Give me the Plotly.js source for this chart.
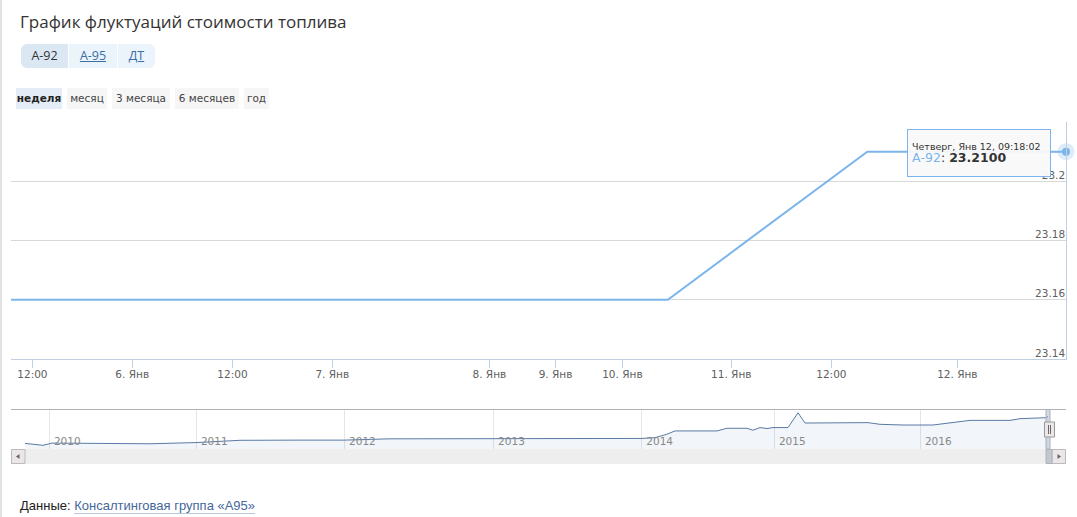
<!DOCTYPE html>
<html>
<head>
<meta charset="utf-8">
<script src="https://cdn.plot.ly/plotly-3.0.1.min.js"></script>
<style>
html,body{margin:0;padding:0;background:#fff;}
#wrap{position:relative;width:1077px;height:517px;overflow:hidden;background:#fff;}
#chart{position:absolute;left:0;top:0;width:1077px;height:517px;}
.lborder{position:absolute;left:0;top:0;width:2px;height:517px;background:#e2e2e2;}
.fuel{position:absolute;left:21px;top:44px;height:24px;display:flex;border-radius:6px;overflow:hidden;font-family:"Open Sans",sans-serif;font-size:12.5px;line-height:24px;}
.fuel span{display:block;text-align:center;background:#ebf3fb;color:#3a6ea5;text-decoration:underline;border-left:1px solid #fff;}
.fuel span.sel{background:#dbe8f4;color:#333;text-decoration:none;border-left:none;}
.rng{position:absolute;top:88px;height:21px;line-height:21px;text-align:center;font-family:"DejaVu Sans",sans-serif;font-size:10.5px;color:#444;background:#f6f6f6;}
.rng.sel{background:#e4edf7;font-weight:bold;color:#222;}
.foot{position:absolute;left:20px;top:497px;font-family:"Liberation Sans",Arial,sans-serif;font-size:13px;color:#222;line-height:18px;}
.foot a{color:#45679a;text-decoration:none;border-bottom:1px solid #b9c8dc;}
</style>
</head>
<body>
<div id="wrap">
  <div id="chart"></div>
  <div class="lborder"></div>
  <div class="fuel" id="fuel"></div>
  <div id="ranges"></div>
  <div class="foot">Данные: <a>Консалтинговая группа «А95»</a></div>
</div>
<script>
// ---- data ----
const fuelTypes = ["А-92", "А-95", "ДТ"];
const rangeLabels = ["неделя", "месяц", "3 месяца", "6 месяцев", "год"];

// main (week view, ordinal axis: positions 0..100 across the window)
const weekX = [0, 62.26, 81.17, 100];
const weekPrice = [23.16, 23.16, 23.21, 23.21];
const weekTickPos = [2.03, 11.49, 20.99, 30.45, 45.34, 51.61, 57.95, 68.27, 77.76, 89.70];
const weekTickLabels = ["12:00", "6. Янв", "12:00", "7. Янв", "8. Янв", "9. Янв", "10. Янв", "11. Янв", "12:00", "12. Янв"];
const priceTicks = [23.14, 23.16, 23.18, 23.2, 23.22];
const priceTickLabels = ["23.14", "23.16", "23.18", "23.2", ""];

// navigator (whole history, ordinal axis 0..100)
const navX = [1.33, 3.03, 3.89, 8.44, 13.18, 17.54, 21.71, 27.39, 31.56, 35.83, 45.69, 59.81, 61.04, 62.18, 62.94,
  66.92, 67.87, 69.76, 70.33, 71.00, 71.66, 72.23, 73.65, 74.60, 75.26, 81.23, 82.37, 84.55, 87.39, 90.90, 94.69,
  95.64, 98.10, 98.29];
const navPrice = [7.29, 6.13, 7.47, 7.47, 7.06, 7.76, 9.10, 9.22, 9.22, 9.97, 10.09, 10.21, 10.67, 12.71, 14.64,
  14.64, 16.21, 16.21, 15.05, 16.62, 16.04, 16.62, 16.62, 25.37, 19.30, 19.54, 18.55, 18.14, 18.14, 20.88, 20.88,
  21.87, 22.45, 23.21];
const yearTickPos = [3.63, 17.56, 31.60, 45.73, 59.78, 72.35, 86.19];
const yearLabels = ["2010", "2011", "2012", "2013", "2014", "2015", "2016"];

const tooltipHeader = "Четверг, Янв 12, 09:18:02";
const seriesName = "А-92";

// ---- UI chrome ----
const fuelWidths = [47, 48, 37];
const fuel = document.getElementById('fuel');
fuelTypes.forEach((f, i) => {
  const s = document.createElement('span');
  s.textContent = f;
  s.style.width = fuelWidths[i] + 'px';
  if (i === 0) s.className = 'sel';
  fuel.appendChild(s);
});
const rngBoxes = [[16, 46], [67, 40], [112, 58], [175, 64], [244, 25]];
const rng = document.getElementById('ranges');
rangeLabels.forEach((r, i) => {
  const d = document.createElement('div');
  d.className = 'rng' + (i === 0 ? ' sel' : '');
  d.style.left = rngBoxes[i][0] + 'px';
  d.style.width = rngBoxes[i][1] + 'px';
  d.textContent = r;
  rng.appendChild(d);
});

// ---- chart ----
const W = 1077, H = 517;
const px = v => v / W, py = v => 1 - v / H;
const lineColor = '#7cb5ec';
const axisFont = {family: 'DejaVu Sans, sans-serif', size: 10.5, color: '#606060'};

const last = weekX.length - 1;
const traces = [
  {x: weekX, y: weekPrice, type: 'scatter', mode: 'lines', line: {color: lineColor, width: 2}, xaxis: 'x', yaxis: 'y', hoverinfo: 'skip'},
  {x: [weekX[last]], y: [weekPrice[last]], type: 'scatter', mode: 'markers', cliponaxis: false,
    marker: {size: 17, color: 'rgba(124,181,236,0.25)'}, xaxis: 'x', yaxis: 'y', hoverinfo: 'skip'},
  {x: [weekX[last]], y: [weekPrice[last]], type: 'scatter', mode: 'markers', cliponaxis: false,
    marker: {size: 8, color: lineColor}, xaxis: 'x', yaxis: 'y', hoverinfo: 'skip'},
  {x: navX, y: navPrice, type: 'scatter', mode: 'lines', fill: 'tozeroy', fillcolor: 'rgba(69,114,167,0.07)',
    line: {color: '#5a7aa3', width: 1}, xaxis: 'x2', yaxis: 'y2', hoverinfo: 'skip'}
];

const shapes = [];
const rect = (x0, y0, x1, y1, fill, line, lw) => shapes.push({type: 'rect', xref: 'paper', yref: 'paper',
  x0: px(x0), x1: px(x1), y0: py(y0), y1: py(y1), fillcolor: fill, line: {color: line || 'rgba(0,0,0,0)', width: lw === undefined ? 1 : lw}, layer: 'above'});
const seg = (x0, y0, x1, y1, color) => shapes.push({type: 'line', xref: 'paper', yref: 'paper',
  x0: px(x0), x1: px(x1), y0: py(y0), y1: py(y1), line: {color: color, width: 1}, layer: 'above'});
const tri = (pts, fill) => shapes.push({type: 'path', xref: 'paper', yref: 'paper',
  path: 'M' + pts.map(p => px(p[0]) + ',' + py(p[1])).join('L') + 'Z', fillcolor: fill, line: {width: 0}, layer: 'above'});

// navigator outline + selection mask
seg(11, 409.5, 1046, 409.5, '#b2b1b6');
seg(1050, 409.5, 1066, 409.5, '#b2b1b6');
rect(1046, 409.5, 1050, 449, 'rgba(150,172,200,0.45)', '#b2b1b6', 1);
// scrollbar
rect(11, 449, 1066, 464, '#eeeeee', null, 0);
rect(11.5, 449.5, 25, 463.5, '#ebe7e8', '#bbbbbb', 1);
tri([[19.5, 454], [16, 456.5], [19.5, 459]], '#666');
rect(1052, 449.5, 1065.5, 463.5, '#ebe7e8', '#bbbbbb', 1);
tri([[1057.5, 454], [1061, 456.5], [1057.5, 459]], '#666');
rect(1046, 449.5, 1052, 463.5, '#bfc8d1', '#b2b1b6', 1);
// navigator handle
rect(1044.5, 422, 1054.5, 437, '#ebe7e8', '#999', 1);
seg(1048.5, 425, 1048.5, 434, '#666');
seg(1050.5, 425, 1050.5, 434, '#666');

const layout = {
  width: W, height: H,
  margin: {l: 0, r: 0, t: 0, b: 0},
  paper_bgcolor: '#fff', plot_bgcolor: '#fff',
  showlegend: false, hovermode: false,
  title: {text: 'График флуктуаций стоимости топлива', x: 20 / W, xanchor: 'left', xref: 'container',
    y: 1 - 22 / H, yanchor: 'middle', yref: 'container',
    font: {family: 'Open Sans, sans-serif', size: 17, color: '#333'}},
  xaxis: {domain: [px(11), px(1066)], range: [0, 100], anchor: 'y', fixedrange: true,
    tickmode: 'array', tickvals: weekTickPos, ticktext: weekTickLabels,
    ticks: 'outside', ticklen: 8, tickcolor: '#C0D0E0', tickwidth: 1,
    showline: true, linecolor: '#C0D0E0', linewidth: 1, showgrid: false, zeroline: false,
    tickfont: axisFont, ticklabelstandoff: -3},
  yaxis: {domain: [py(359), py(122)], range: [23.14, 23.22], anchor: 'x', side: 'right', fixedrange: true,
    tickmode: 'array', tickvals: priceTicks, ticktext: priceTickLabels,
    ticks: '', ticklabelposition: 'inside', ticklabelshift: -6, ticklabelstandoff: 0,
    showgrid: true, gridcolor: '#D8D8D8', gridwidth: 1,
    showline: true, linecolor: '#C0D0E0', linewidth: 1, zeroline: false, tickfont: axisFont},
  xaxis2: {domain: [px(11), px(1066)], range: [0, 100], anchor: 'y2', fixedrange: true,
    tickmode: 'array', tickvals: yearTickPos, ticktext: yearLabels,
    ticks: '', ticklabelposition: 'inside', ticklabelshift: 18, ticklabelstandoff: -1,
    showgrid: true, gridcolor: '#e6e6e6', showline: false, zeroline: false,
    tickfont: {family: 'DejaVu Sans, sans-serif', size: 10.5, color: '#888'}},
  yaxis2: {domain: [py(449), py(409.5)], range: [3.97, 27.29], anchor: 'x2', fixedrange: true,
    showticklabels: false, ticks: '', showgrid: false, zeroline: false, showline: false},
  shapes: shapes,
  annotations: [{
    xref: 'x', yref: 'y', x: weekX[last], y: weekPrice[last], ax: -87, ay: 1,
    showarrow: true, arrowhead: 0, arrowwidth: 1, arrowcolor: lineColor, standoff: 7,
    text: tooltipHeader + '<br><span style="font-size:12.5px"><span style="color:' + lineColor + '">' + seriesName +
      '</span>: <b>' + weekPrice[last].toFixed(4) + '</b></span>',
    align: 'left', width: 134, height: 38,
    bgcolor: 'rgba(249,249,249,0.95)', bordercolor: lineColor, borderwidth: 1, borderpad: 4,
    font: {family: 'DejaVu Sans, sans-serif', size: 9.5, color: '#333'}
  }]
};

Plotly.newPlot('chart', traces, layout, {staticPlot: true, displayModeBar: false});
</script>
</body>
</html>
